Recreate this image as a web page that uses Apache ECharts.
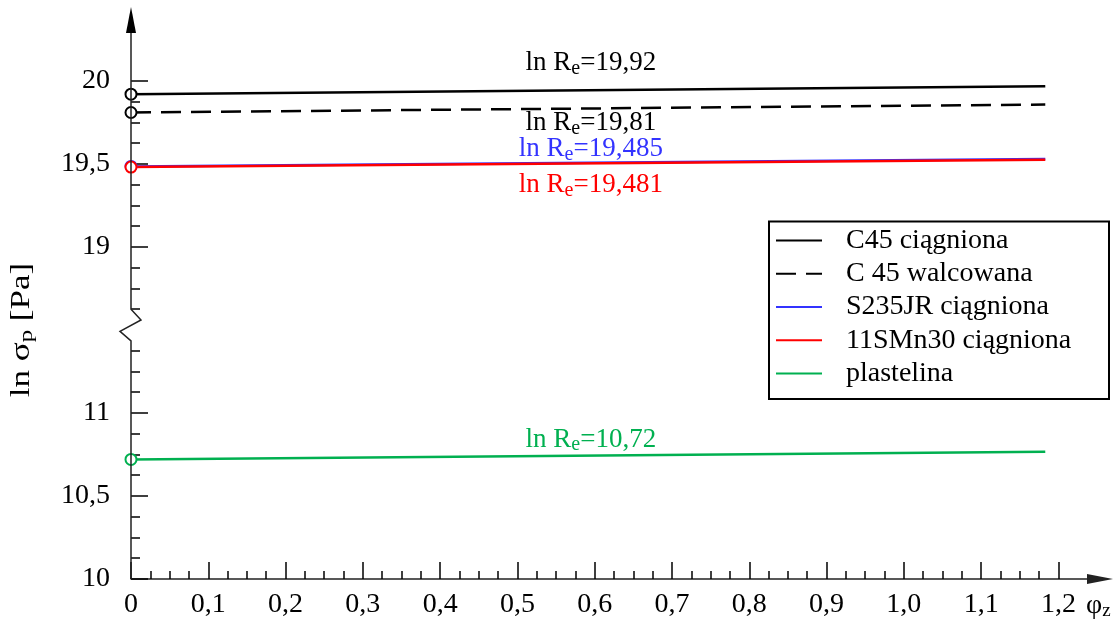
<!DOCTYPE html>
<html>
<head>
<meta charset="utf-8">
<title>ln σp – φz</title>
<script src="https://cdn.jsdelivr.net/npm/echarts@6/dist/echarts.min.js"></script>
<style>
  html, body { margin: 0; padding: 0; background: #fff; }
  #chart { width: 1117px; height: 625px; }
</style>
</head>
<body>
<div id="chart"></div>
<script>
// Flow stress (ln σp) of five materials against strain φz, on a broken stress axis.
const materials = ['C45 ciągniona', 'C 45 walcowana', 'S235JR ciągniona', '11SMn30 ciągniona', 'plastelina'];
const lnRe = [19.92, 19.81, 19.485, 19.481, 10.72];          // ln σp at φz = 0 (ln Re)
const lnSigmaEnd = [19.968, 19.858, 19.530, 19.526, 10.767]; // ln σp at the last strain
const phiPoints = [0, 1.183];
const xTickValues = [0, 0.1, 0.2, 0.3, 0.4, 0.5, 0.6, 0.7, 0.8, 0.9, 1.0, 1.1, 1.2];
const yTickValues = [10, 10.5, 11, 19, 19.5, 20];

// ---- styling ----
const SERIF = "'Liberation Serif', 'Times New Roman', serif";
const AXIS_COLOR = '#222';
const TICK_FONT = 28;
const seriesColors = ['#000000', '#000000', '#3333ff', '#ff0000', '#00b050'];
const seriesDash = ['solid', [20, 10], 'solid', 'solid', 'solid'];
const labelOffsets = [-31, 10.5, -17.5, 18, -20];
const LABEL_PHI = 0.595;

// ---- broken stress axis: values between 11.5 and 18.5 are cut out ----
const BREAK_SHIFT = 7;
const toAxis = v => (v > 15 ? v - BREAK_SHIFT : v);
const fromAxis = t => (t > 11.5 ? t + BREAK_SHIFT : t);
const BREAK_LOW = 11.434;   // lower axis segment ends here (axis units)
const BREAK_HIGH = 11.625;  // upper segment starts here (= 18.625)
const X_MAX = 1.2538;
const Y_MAX = 13.367;

// minor tick positions
const xMinor = [];
for (let i = 1; i <= 48; i++) if (i % 4) xMinor.push(+(i * 0.025).toFixed(3));
const yMinor = [];
for (let k = 1; k <= 11; k++) if (k % 4) yMinor.push(10 + k * 0.125);
for (let k = 0; k <= 11; k++) { const v = 18.625 + k * 0.125; if (Math.abs(v * 2 - Math.round(v * 2)) > 1e-9) yMinor.push(v); }

const fmtDec = v => (Number.isInteger(v) ? String(v) : v.toFixed(1).replace('.', ','));
const fmtX = v => (v === 0 ? '0' : v.toFixed(1).replace('.', ','));
const fmtRe = v => String(v).replace('.', ',');

const chart = echarts.init(document.getElementById('chart'), null, { renderer: 'canvas' });

const tickStyle = { color: '#000', width: 1.5 };

const option = {
  animation: false,
  backgroundColor: '#fff',
  textStyle: { fontFamily: SERIF },
  grid: { left: 131, right: 17, top: 20, bottom: 46, containLabel: false, outerBoundsMode: 'none' },
  xAxis: [
    {
      type: 'value', min: 0, max: X_MAX,
      axisLine: { show: true, onZero: false, symbol: ['none', 'triangle'], symbolSize: [10, 26],
                  lineStyle: { color: AXIS_COLOR, width: 1.5 } },
      axisTick: { show: true, inside: true, length: 17, customValues: xTickValues, lineStyle: tickStyle },
      axisLabel: { show: true, customValues: xTickValues, formatter: fmtX, margin: 12,
                   fontFamily: SERIF, fontSize: TICK_FONT, color: '#000' },
      splitLine: { show: false }
    },
    {
      type: 'value', min: 0, max: X_MAX, position: 'bottom', offset: 0,
      axisLine: { show: false },
      axisTick: { show: true, inside: true, length: 8, customValues: xMinor, lineStyle: tickStyle },
      axisLabel: { show: false },
      splitLine: { show: false }
    }
  ],
  yAxis: [
    {
      type: 'value', min: 10, max: Y_MAX, position: 'left', offset: 0,
      axisLine: { show: false },
      axisTick: { show: true, inside: true, length: 17, customValues: yTickValues.map(toAxis), lineStyle: tickStyle },
      axisLabel: { show: true, customValues: yTickValues.map(toAxis), formatter: t => fmtDec(fromAxis(t)),
                   margin: 21, fontFamily: SERIF, fontSize: TICK_FONT, color: '#000' },
      splitLine: { show: false }
    },
    {
      type: 'value', min: 10, max: Y_MAX, position: 'left', offset: 0,
      axisLine: { show: false },
      axisTick: { show: true, inside: true, length: 9, customValues: yMinor.map(toAxis), lineStyle: tickStyle },
      axisLabel: { show: false },
      splitLine: { show: false }
    }
  ],
  legend: {
    orient: 'vertical', left: 775, top: 224, padding: 0, itemGap: 0,
    itemWidth: 46, itemHeight: 14, selectedMode: false,
    itemStyle: { opacity: 0 },
    textStyle: { fontFamily: SERIF, fontSize: 28, color: '#000', lineHeight: 33.2, padding: [0, 0, 0, 19] },
    data: materials
  },
  series: materials.map((name, i) => ({
    name, type: 'line', clip: false,
    xAxisIndex: 0, yAxisIndex: 0,
    symbol: 'circle', symbolSize: 11, showSymbol: true,
    itemStyle: { color: '#fff', borderColor: seriesColors[i], borderWidth: 2 },
    lineStyle: { color: seriesColors[i], width: 2.5, type: seriesDash[i] },
    emphasis: { disabled: true },
    data: [
      { value: [phiPoints[0], toAxis(lnRe[i])] },
      { value: [phiPoints[1], toAxis(lnSigmaEnd[i])], symbol: 'none' }
    ],
    markPoint: {
      silent: true, animation: false,
      symbol: 'circle', symbolSize: 1,
      itemStyle: { color: 'rgba(0,0,0,0)', borderWidth: 0 },
      label: {
        show: true, position: 'inside', offset: [0, labelOffsets[i]],
        color: seriesColors[i], fontFamily: SERIF, fontSize: 27,
        formatter: () => '{m|ln R}{s|e}{m|=' + fmtRe(lnRe[i]) + '}',
        rich: {
          m: { fontFamily: SERIF, fontSize: 27, color: seriesColors[i] },
          s: { fontFamily: SERIF, fontSize: 20, color: seriesColors[i], padding: [11, 0, 0, 0] }
        }
      },
      data: [{ coord: [LABEL_PHI, toAxis(lnRe[i])] }]
    }
  }))
};

chart.setOption(option);

// Stress axis line with the zigzag break and arrow head, placed through the axis scale.
const px = t => chart.convertToPixel({ seriesIndex: 0 }, [0, t]);
const pBottom = px(10), pLow = px(BREAK_LOW), pHigh = px(BREAK_HIGH), pTop = px(Y_MAX);
const ax = pBottom[0];
const zig = pLow[1] - pHigh[1];

chart.setOption({
  graphic: [
    {
      type: 'polyline', silent: true, z: 5,
      shape: { points: [
        [ax, pBottom[1]], [ax, pLow[1]],
        [ax - 11, pHigh[1] + zig * 0.7], [ax + 10, pHigh[1] + zig * 0.34],
        [ax, pHigh[1]], [ax, pTop[1]]
      ] },
      style: { stroke: AXIS_COLOR, lineWidth: 1.5, fill: null }
    },
    {
      type: 'polygon', silent: true, z: 5,
      shape: { points: [[ax, pTop[1] - 13], [ax - 5, pTop[1] + 13], [ax + 5, pTop[1] + 13]] },
      style: { fill: '#000', stroke: null }
    },
    {
      type: 'rect', silent: true, z: 1,
      shape: { x: 769, y: 221.5, width: 340, height: 177.5 },
      style: { fill: null, stroke: '#000', lineWidth: 2 }
    },
    {
      type: 'text', silent: true, x: 22, y: 330, rotation: Math.PI / 2, scaleX: 1.3,
      style: {
        text: '{m|ln σ}{s|p}{m| [Pa]}',
        align: 'center', verticalAlign: 'middle', textAlign: 'center', textVerticalAlign: 'middle',
        fill: '#000',
        rich: {
          m: { fontFamily: SERIF, fontSize: 27, fill: '#000', color: '#000' },
          s: { fontFamily: SERIF, fontSize: 19, fill: '#000', color: '#000', padding: [10, 0, 0, 0] }
        }
      }
    },
    {
      type: 'text', silent: true, x: 1086, y: 606,
      style: {
        text: '{m|φ}{s|z}',
        align: 'left', verticalAlign: 'middle', textAlign: 'left', textVerticalAlign: 'middle',
        fill: '#000',
        rich: {
          m: { fontFamily: SERIF, fontSize: 28, fill: '#000', color: '#000' },
          s: { fontFamily: SERIF, fontSize: 19, fill: '#000', color: '#000', padding: [10, 0, 0, 0] }
        }
      }
    }
  ]
});
</script>
</body>
</html>
